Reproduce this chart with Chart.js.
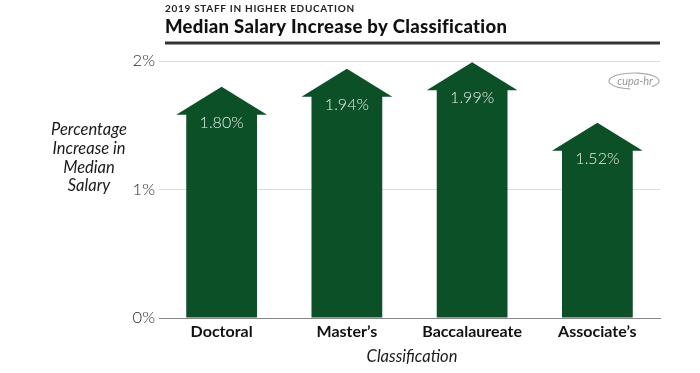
<!DOCTYPE html>
<html>
<head>
<meta charset="utf-8">
<script src="https://cdn.jsdelivr.net/npm/chart.js@4"></script>
<style>
html,body{margin:0;padding:0;background:#fff;}
#wrap{width:700px;height:373px;position:relative;}
</style>
</head>
<body>
<div id="wrap"><canvas id="c" width="700" height="373"></canvas></div>
<script>
const categories = ['Doctoral', 'Master\u2019s', 'Baccalaureate', 'Associate\u2019s'];
const values = [1.80, 1.94, 1.99, 1.52];
const yTicks = [0, 1, 2];
const supertitle = '2019 STAFF IN HIGHER EDUCATION';
const title = 'Median Salary Increase by Classification';
const yTitleLines = ['Percentage', 'Increase in', 'Median', 'Salary'];
const xTitle = 'Classification';

const GREEN = '#0c5028';

const arrowPlugin = {
  id: 'arrows',
  afterDatasetsDraw(chart) {
    const ctx = chart.ctx;
    const meta = chart.getDatasetMeta(0);
    ctx.save();
    meta.data.forEach((el, i) => {
      const p = el.getProps(['x', 'y', 'base', 'width'], true);
      const hw = p.width / 2, head = hw + 10, hh = 28;
      ctx.beginPath();
      ctx.moveTo(p.x - hw, p.base);
      ctx.lineTo(p.x - hw, p.y + hh);
      ctx.lineTo(p.x - head, p.y + hh);
      ctx.lineTo(p.x, p.y);
      ctx.lineTo(p.x + head, p.y + hh);
      ctx.lineTo(p.x + hw, p.y + hh);
      ctx.lineTo(p.x + hw, p.base);
      ctx.closePath();
      ctx.fillStyle = GREEN;
      ctx.fill();
      ctx.fillStyle = '#e4ece5';
      ctx.font = '300 16px Lato, "Open Sans", sans-serif';
      ctx.textAlign = 'center';
      ctx.textBaseline = 'middle';
      ctx.fillText(values[i].toFixed(2) + '%', p.x, p.y + 36);
    });
    ctx.restore();
  }
};

const textPlugin = {
  id: 'texts',
  afterDraw(chart) {
    const ctx = chart.ctx;
    const ca = chart.chartArea;
    ctx.save();
    // supertitle
    ctx.fillStyle = '#222';
    ctx.textAlign = 'left';
    ctx.textBaseline = 'alphabetic';
    ctx.font = 'bold 10px Lato, sans-serif';
    if ('letterSpacing' in ctx) ctx.letterSpacing = '0.7px';
    ctx.fillText(supertitle, 165, 12);
    if ('letterSpacing' in ctx) ctx.letterSpacing = '0px';
    // title
    ctx.fillStyle = '#111';
    ctx.font = '900 18.5px Lato, sans-serif';
    if ('letterSpacing' in ctx) ctx.letterSpacing = '0.3px';
    ctx.fillText(title, 165, 33);
    if ('letterSpacing' in ctx) ctx.letterSpacing = '0px';
    // rule
    ctx.fillStyle = '#333';
    ctx.fillRect(165, 41.5, 495, 3);
    // y title
    ctx.fillStyle = '#1a1a1a';
    ctx.font = 'italic 400 16.5px Lato, "Open Sans", sans-serif';
    ctx.textAlign = 'center';
    ctx.textBaseline = 'middle';
    yTitleLines.forEach((l, i) => ctx.fillText(l, 89, 130 + i * 18.7));
    // x title
    ctx.fillText(xTitle, 412, 357);
    // logo
    ctx.strokeStyle = '#aaa';
    ctx.lineWidth = 1.2;
    ctx.beginPath();
    ctx.ellipse(634, 81, 25, 8, 0, Math.PI * 0.55, Math.PI * 2.25);
    ctx.stroke();
    ctx.fillStyle = '#999';
    ctx.font = 'italic 11px Lato, sans-serif';
    ctx.fillText('cupa-hr', 635, 81);
    ctx.restore();
  }
};

new Chart(document.getElementById('c'), {
  type: 'bar',
  data: {
    labels: categories,
    datasets: [{
      data: values,
      backgroundColor: 'rgba(0,0,0,0)',
      borderWidth: 0,
      barPercentage: 0.565,
      categoryPercentage: 1.0
    }]
  },
  options: {
    responsive: false,
    animation: false,
    events: [],
    layout: { padding: { left: 0, right: 40, top: 61, bottom: 0 } },
    plugins: { legend: { display: false }, tooltip: { enabled: false }, title: { display: false } },
    scales: {
      x: {
        grid: { display: false, drawTicks: false },
        border: { display: true, color: '#888', width: 1 },
        ticks: {
          color: '#111',
          padding: 4,
          font: { family: 'Lato, sans-serif', size: 16, weight: 'bold' }
        },
        afterFit(scale) { scale.height = 55; }
      },
      y: {
        min: 0, max: 2,
        afterBuildTicks(scale) { scale.ticks = yTicks.map(v => ({ value: v })); },
        grid: {
          color: ctx => ctx.tick && ctx.tick.value === 0 ? '#888' : '#dcdcdc',
          drawTicks: false,
          lineWidth: 1
        },
        border: { display: false },
        ticks: {
          color: '#2a2a2a',
          padding: 4,
          font: { family: 'Lato, "Open Sans", sans-serif', size: 16.5, weight: '300' },
          callback: v => v + '%'
        },
        afterFit(scale) { scale.width = 159; }
      }
    }
  },
  plugins: [arrowPlugin, textPlugin]
});
</script>
</body>
</html>
